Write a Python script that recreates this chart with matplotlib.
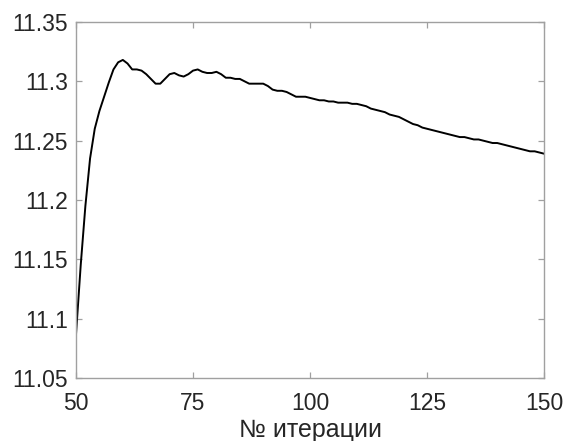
import numpy as np
import matplotlib.pyplot as plt

# iteration numbers and the estimate at each one
iters = list(range(50, 151))
values = [
    11.087, 11.145, 11.195, 11.235, 11.260, 11.275, 11.287, 11.299, 11.310, 11.316,
    11.318, 11.315, 11.310, 11.310, 11.309, 11.306, 11.302, 11.298, 11.298, 11.302,
    11.306, 11.307, 11.305, 11.304, 11.306, 11.309, 11.310, 11.308, 11.307, 11.307,
    11.308, 11.306, 11.303, 11.303, 11.302, 11.302, 11.300, 11.298, 11.298, 11.298,
    11.298, 11.296, 11.293, 11.292, 11.292, 11.291, 11.289, 11.287, 11.287, 11.287,
    11.286, 11.285, 11.284, 11.284, 11.283, 11.283, 11.282, 11.282, 11.282, 11.281,
    11.281, 11.280, 11.279, 11.277, 11.276, 11.275, 11.274, 11.272, 11.271, 11.270,
    11.268, 11.266, 11.264, 11.263, 11.261, 11.260, 11.259, 11.258, 11.257, 11.256,
    11.255, 11.254, 11.253, 11.253, 11.252, 11.251, 11.251, 11.250, 11.249, 11.248,
    11.248, 11.247, 11.246, 11.245, 11.244, 11.243, 11.242, 11.241, 11.241, 11.240,
    11.239,
]

xticks = [50, 75, 100, 125, 150]
yticks = [11.05, 11.1, 11.15, 11.2, 11.25, 11.3, 11.35]
ytick_labels = ['11.05', '11.1', '11.15', '11.2', '11.25', '11.3', '11.35']
xlabel = '№ итерации'

plt.rcParams['font.family'] = ['Liberation Sans', 'DejaVu Sans']

fig = plt.figure(figsize=(5.64, 4.41), dpi=100)
ax = fig.add_axes([0.1348, 0.1429, 0.8298, 0.8073])

ax.plot(iters, values, color='black', lw=1.4)

ax.set_xlim(50, 150)
ax.set_ylim(11.05, 11.35)
ax.set_xticks(xticks)
ax.set_yticks(yticks)
ax.set_yticklabels(ytick_labels)

axcol = '#a0a0a0'
for s in ax.spines.values():
    s.set_color(axcol)
    s.set_linewidth(1.0)
ax.tick_params(direction='in', top=True, right=True, length=4, width=0.9,
               color=axcol, labelsize=16.5, labelcolor='#262626')
ax.tick_params(axis='y', pad=6)
ax.tick_params(axis='x', pad=10)
ax.set_xlabel(xlabel, fontsize=18, color='#262626', labelpad=2)

fig.savefig('out.png', dpi=100)
